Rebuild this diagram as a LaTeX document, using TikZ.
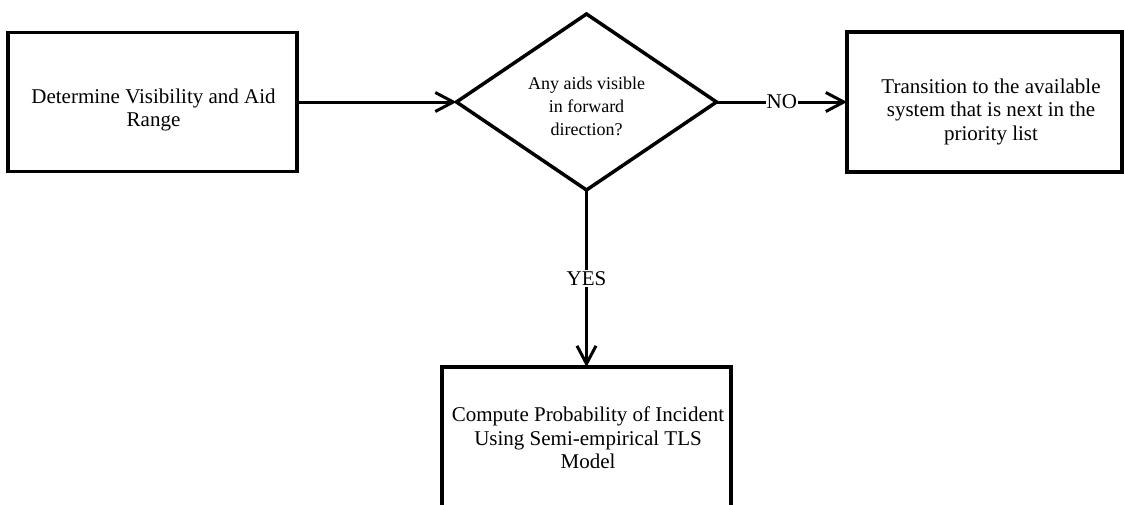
\documentclass[tikz,border=0pt]{standalone}
\usepackage{fontspec}
\setmainfont{Liberation Serif}
\usetikzlibrary{arrows.meta,shapes.geometric}
\begin{document}
\begin{tikzpicture}[x=1pt,y=-1pt,
  shapebox/.style={draw, line width=3.5pt, inner sep=0pt, outer sep=0pt},
  txt/.style={align=center, inner sep=0pt, font=\fontsize{21}{23.5}\selectfont},
  smalltxt/.style={align=center, inner sep=0pt, font=\fontsize{18}{23}\selectfont},
  conn/.style={line width=3pt, -{Straight Barb[length=18pt,width=19pt,line width=3pt,sharp]}},
  lbl/.style={fill=white, inner sep=1pt, font=\fontsize{21}{23.5}\selectfont}]
\useasboundingbox (0,0) rectangle (1124,504);
\clip (0,0) rectangle (1124,504);
% shapes
\node[shapebox, minimum width=289pt, minimum height=139pt] (b1) at (152.5,102) {};
\node[shapebox, diamond, minimum width=260pt, minimum height=176pt] (d) at (586.5,102) {};
\node[shapebox, minimum width=275pt, minimum height=140pt] (b3) at (984.5,102) {};
\node[shapebox, minimum width=289pt, minimum height=160pt] (b4) at (586.5,447) {};
% texts
\node[txt] (t1) at (153.5,110.3) {Determine Visibility and Aid\strut\\Range\strut};
\node[smalltxt] (t2) at (586.5,107.9) {Any aids visible\strut\\in forward\strut\\direction?\strut};
\node[txt] (t3) at (991,111.8) {Transition to the available\strut\\system that is next in the\strut\\priority list\strut};
\node[txt] (t4) at (588,440.3) {Compute Probability of Incident\strut\\Using Semi-empirical TLS\strut\\Model\strut};
% connectors
\draw[conn] (b1.east) -- (d.west);
\draw[conn] (d.east) -- node[lbl] (no) {NO} (b3.west);
\draw[conn] (d.south) -- node[lbl] (yes) {YES} (b4.north);
\end{tikzpicture}
\end{document}
